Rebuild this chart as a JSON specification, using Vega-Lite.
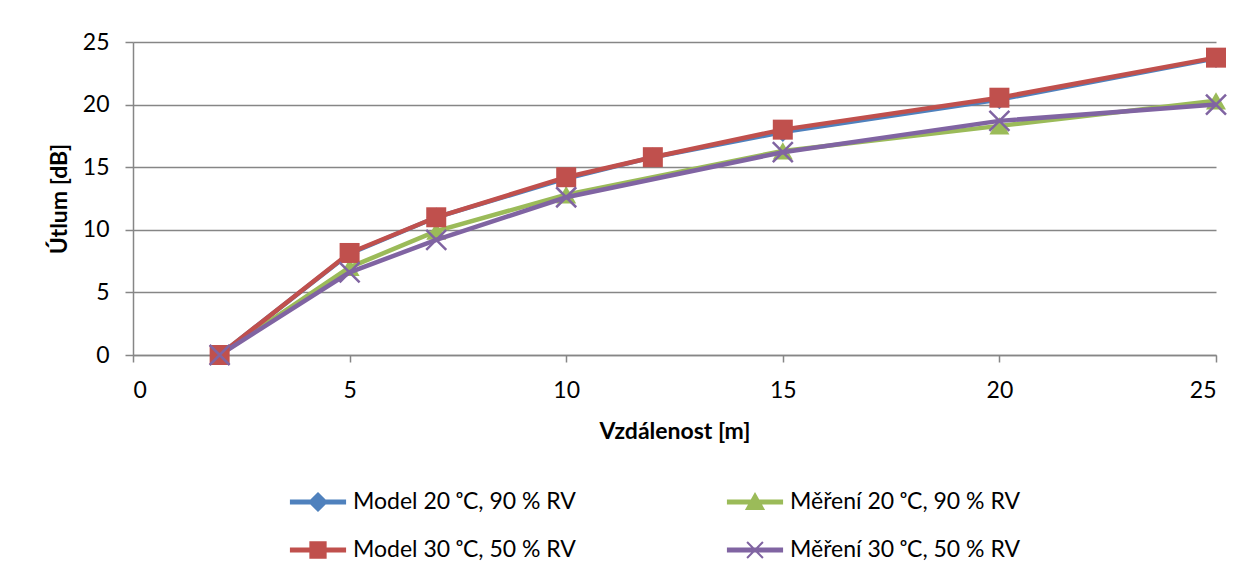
{
  "$schema": "https://vega.github.io/schema/vega-lite/v6.json",
  "width": 1083,
  "height": 313,
  "autosize": {"type": "none"},
  "padding": {"left": 133, "top": 42, "right": 44, "bottom": 227},
  "background": "white",
  "config": {"view": {"stroke": null}, "font": "Lato"},
  "data": {
    "values": [
      {"x": 2, "y": 0, "s": "Model 20 ᵒC, 90 % RV"},
      {"x": 5, "y": 8.1, "s": "Model 20 ᵒC, 90 % RV"},
      {"x": 7, "y": 11.0, "s": "Model 20 ᵒC, 90 % RV"},
      {"x": 10, "y": 14.1, "s": "Model 20 ᵒC, 90 % RV"},
      {"x": 12, "y": 15.8, "s": "Model 20 ᵒC, 90 % RV"},
      {"x": 15, "y": 17.8, "s": "Model 20 ᵒC, 90 % RV"},
      {"x": 20, "y": 20.4, "s": "Model 20 ᵒC, 90 % RV"},
      {"x": 25, "y": 23.7, "s": "Model 20 ᵒC, 90 % RV"},
      {"x": 2, "y": 0, "s": "Měření 20 ᵒC, 90 % RV"},
      {"x": 5, "y": 7.0, "s": "Měření 20 ᵒC, 90 % RV"},
      {"x": 7, "y": 9.9, "s": "Měření 20 ᵒC, 90 % RV"},
      {"x": 10, "y": 12.8, "s": "Měření 20 ᵒC, 90 % RV"},
      {"x": 15, "y": 16.3, "s": "Měření 20 ᵒC, 90 % RV"},
      {"x": 20, "y": 18.3, "s": "Měření 20 ᵒC, 90 % RV"},
      {"x": 25, "y": 20.3, "s": "Měření 20 ᵒC, 90 % RV"},
      {"x": 2, "y": 0, "s": "Model 30 ᵒC, 50 % RV"},
      {"x": 5, "y": 8.15, "s": "Model 30 ᵒC, 50 % RV"},
      {"x": 7, "y": 11.0, "s": "Model 30 ᵒC, 50 % RV"},
      {"x": 10, "y": 14.2, "s": "Model 30 ᵒC, 50 % RV"},
      {"x": 12, "y": 15.8, "s": "Model 30 ᵒC, 50 % RV"},
      {"x": 15, "y": 18.0, "s": "Model 30 ᵒC, 50 % RV"},
      {"x": 20, "y": 20.55, "s": "Model 30 ᵒC, 50 % RV"},
      {"x": 25, "y": 23.75, "s": "Model 30 ᵒC, 50 % RV"},
      {"x": 2, "y": 0, "s": "Měření 30 ᵒC, 50 % RV"},
      {"x": 5, "y": 6.6, "s": "Měření 30 ᵒC, 50 % RV"},
      {"x": 7, "y": 9.2, "s": "Měření 30 ᵒC, 50 % RV"},
      {"x": 10, "y": 12.6, "s": "Měření 30 ᵒC, 50 % RV"},
      {"x": 15, "y": 16.2, "s": "Měření 30 ᵒC, 50 % RV"},
      {"x": 20, "y": 18.7, "s": "Měření 30 ᵒC, 50 % RV"},
      {"x": 25, "y": 20.0, "s": "Měření 30 ᵒC, 50 % RV"}
    ]
  },
  "encoding": {
    "x": {
      "field": "x", "type": "quantitative",
      "scale": {"domain": [0, 25], "nice": false, "zero": false},
      "axis": {
        "title": "Vzdálenost [m]", "values": [0, 5, 10, 15, 20, 25], "grid": false,
        "domainColor": "#868686", "domainWidth": 1.5, "tickColor": "#868686", "tickWidth": 1.5, "tickSize": 7,
        "labelFontSize": 23, "labelColor": "#000", "labelPadding": 17, "labelFont": "Lato",
        "titleFontSize": 23, "titleFontWeight": "bold", "titleColor": "#000", "titlePadding": 18, "titleFont": "Lato"
      }
    },
    "y": {
      "field": "y", "type": "quantitative",
      "scale": {"domain": [0, 25], "nice": false},
      "axis": {
        "title": "Útlum [dB]", "values": [0, 5, 10, 15, 20, 25], "grid": true,
        "gridColor": "#868686", "gridWidth": 1.5,
        "domainColor": "#868686", "domainWidth": 1.5, "tickColor": "#868686", "tickWidth": 1.5, "tickSize": 8,
        "labelFontSize": 23, "labelColor": "#000", "labelPadding": 16, "labelFont": "Lato",
        "titleFontSize": 23, "titleFontWeight": "bold", "titleColor": "#000", "titlePadding": 11, "titleFont": "Lato"
      }
    }
  },
  "layer": [
    {
      "mark": {"type": "point", "filled": true, "opacity": 0, "size": 10},
      "encoding": {
        "color": {
          "field": "s", "type": "nominal",
          "scale": {
            "domain": ["Model 20 ᵒC, 90 % RV", "Model 30 ᵒC, 50 % RV", "Měření 20 ᵒC, 90 % RV", "Měření 30 ᵒC, 50 % RV"],
            "range": ["#4F81BD", "#C0504D", "#9BBB59", "#8064A2"]
          },
          "legend": {
            "orient": "none", "legendX": 161, "legendY": 436, "columns": 2, "title": null,
            "padding": 0, "rowPadding": 12, "columnPadding": 143, "gridAlign": "all",
            "symbolSize": 2304, "symbolStrokeWidth": 0, "symbolOpacity": 1, "labelFontSize": 23, "labelFont": "Lato",
            "labelColor": "#000", "labelOffset": 11, "labelLimit": 400
          }
        },
        "shape": {
          "field": "s", "type": "nominal",
          "scale": {
            "domain": ["Model 20 ᵒC, 90 % RV", "Model 30 ᵒC, 50 % RV", "Měření 20 ᵒC, 90 % RV", "Měření 30 ᵒC, 50 % RV"],
            "range": [
              "M-1.17,-0.1H1.17V0.1H-1.17Z M0,-0.42L0.42,0L0,0.42L-0.42,0Z",
              "M-1.17,-0.1H1.17V0.1H-1.17Z M-0.36,-0.36H0.36V0.36H-0.36Z",
              "M-1.17,-0.1H1.17V0.1H-1.17Z M0,-0.42L0.42,0.33H-0.42Z",
              "M-1.17,-0.1H1.17V0.1H-1.17Z M-0.36,-0.3L-0.3,-0.36L0.36,0.3L0.3,0.36Z M0.3,-0.36L0.36,-0.3L-0.3,0.36L-0.36,0.3Z"
            ]
          },
          "legend": {
            "orient": "none", "legendX": 161, "legendY": 436, "columns": 2, "title": null,
            "padding": 0, "rowPadding": 12, "columnPadding": 143, "gridAlign": "all",
            "symbolSize": 2304, "symbolStrokeWidth": 0, "symbolOpacity": 1, "labelFontSize": 23, "labelFont": "Lato",
            "labelColor": "#000", "labelOffset": 11, "labelLimit": 400
          }
        }
      }
    },
    {
      "transform": [{"filter": {"field": "s", "oneOf": ["Model 20 ᵒC, 90 % RV", "Měření 20 ᵒC, 90 % RV"]}}],
      "mark": {"type": "line", "strokeWidth": 4.5},
      "encoding": {
        "color": {
          "field": "s", "type": "nominal",
          "scale": {
            "domain": ["Model 20 ᵒC, 90 % RV", "Model 30 ᵒC, 50 % RV", "Měření 20 ᵒC, 90 % RV", "Měření 30 ᵒC, 50 % RV"],
            "range": ["#4F81BD", "#C0504D", "#9BBB59", "#8064A2"]
          }
        }
      }
    },
    {
      "transform": [{"filter": {"field": "s", "equal": "Model 20 ᵒC, 90 % RV"}}],
      "mark": {"type": "point", "filled": true, "opacity": 1, "shape": "diamond", "color": "#4F81BD", "size": 380}
    },
    {
      "transform": [{"filter": {"field": "s", "equal": "Měření 20 ᵒC, 90 % RV"}}],
      "mark": {"type": "point", "filled": true, "opacity": 1, "shape": "triangle-up", "color": "#9BBB59", "size": 400}
    },
    {
      "transform": [{"filter": {"field": "s", "oneOf": ["Model 30 ᵒC, 50 % RV", "Měření 30 ᵒC, 50 % RV"]}}],
      "mark": {"type": "line", "strokeWidth": 4.5},
      "encoding": {
        "color": {
          "field": "s", "type": "nominal",
          "scale": {
            "domain": ["Model 20 ᵒC, 90 % RV", "Model 30 ᵒC, 50 % RV", "Měření 20 ᵒC, 90 % RV", "Měření 30 ᵒC, 50 % RV"],
            "range": ["#4F81BD", "#C0504D", "#9BBB59", "#8064A2"]
          }
        }
      }
    },
    {
      "transform": [{"filter": {"field": "s", "equal": "Model 30 ᵒC, 50 % RV"}}],
      "mark": {"type": "point", "filled": true, "opacity": 1, "shape": "square", "color": "#C0504D", "size": 400}
    },
    {
      "transform": [{"filter": {"field": "s", "equal": "Měření 30 ᵒC, 50 % RV"}}],
      "mark": {"type": "point", "filled": false, "opacity": 1, "shape": "M-1,-1L1,1M-1,1L1,-1", "color": "#8064A2", "strokeWidth": 2.5, "size": 400}
    }
  ]
}
